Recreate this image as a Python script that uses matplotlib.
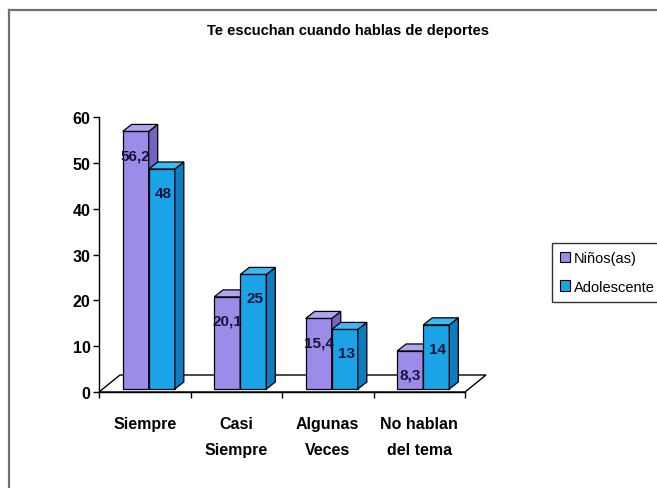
import matplotlib
matplotlib.use("Agg")
import matplotlib.pyplot as plt
from matplotlib.patches import Polygon, Patch
from matplotlib.lines import Line2D
import numpy as np

plt.rcParams['font.family'] = ['Liberation Sans', 'DejaVu Sans']

# datos
categorias = ["Siempre", "Casi\nSiempre", "Algunas\nVeces", "No hablan\ndel tema"]
ninos = [56.2, 20.1, 15.4, 8.3]
adolescentes = [48, 25, 13, 14]
etiq_ninos = ["56,2", "20,1", "15,4", "8,3"]
etiq_adol = ["48", "25", "13", "14"]
series = ["Niños(as)", "Adolescente"]

# colores (frente, lado, arriba)
morado = ("#9c8ce8", "#7563c4", "#b1a4f0")
azul = ("#1ba3e8", "#0f7cc0", "#3cb8f2")

W, H = 657, 489
fig = plt.figure(figsize=(W / 100, H / 100), dpi=100)
fig.patch.set_facecolor("white")

# ejes en pixeles: x 99..465, y 118..393
ax = fig.add_axes([99 / W, (H - 393) / H, (465 - 99) / W, (393 - 118) / H])
ax.set_xlim(0, 4)
ax.set_ylim(0, 60)
ax.patch.set_alpha(0)

px_x = 4 / (465 - 99)      # unidades por pixel
px_y = 60 / (393 - 118)

# piso en perspectiva
fdx, fdy = 21 * px_x, 17 * px_y
piso = Polygon([(0, 0), (4, 0), (4 + fdx, fdy), (fdx, fdy)], closed=True,
               facecolor="white", edgecolor="black", lw=1.0, clip_on=False, zorder=1)
ax.add_patch(piso)

# barras con profundidad
bdx, bdy = 9 * px_x, 7 * px_y       # profundidad de la barra
ox, oy = 4 * px_x, 3 * px_y         # barras un poco atras del borde del piso
ancho = 0.285
centros = np.arange(len(categorias)) + 0.5

def barra3d(xs, vals, col, z):
    ax.bar(xs + ox, vals, width=ancho, bottom=oy, color=col[0],
           edgecolor="black", linewidth=0.9, zorder=z, clip_on=False)
    for x, v in zip(xs + ox, vals):
        x0, x1 = x - ancho / 2, x + ancho / 2
        top = oy + v
        lado = Polygon([(x1, oy), (x1 + bdx, oy + bdy), (x1 + bdx, top + bdy), (x1, top)],
                       facecolor=col[1], edgecolor="black", lw=0.9, zorder=z, clip_on=False)
        arriba = Polygon([(x0, top), (x1, top), (x1 + bdx, top + bdy), (x0 + bdx, top + bdy)],
                         facecolor=col[2], edgecolor="black", lw=0.9, zorder=z, clip_on=False)
        ax.add_patch(lado)
        ax.add_patch(arriba)

barra3d(centros - ancho / 2, ninos, morado, 3)
barra3d(centros + ancho / 2, adolescentes, azul, 4)

# etiquetas de datos
for x, v, t in zip(centros - ancho / 2 + ox, ninos, etiq_ninos):
    ax.annotate(t, (x, v), xytext=(0, -15), textcoords="offset points",
                ha="center", va="center", fontsize=11, fontweight="bold",
                color="#14143a", zorder=6)
for x, v, t in zip(centros + ancho / 2 + ox, adolescentes, etiq_adol):
    ax.annotate(t, (x, v), xytext=(1, -15), textcoords="offset points",
                ha="center", va="center", fontsize=11, fontweight="bold",
                color="#14143a", zorder=6)

# ejes
for s in ["top", "right"]:
    ax.spines[s].set_visible(False)
ax.spines["left"].set_linewidth(1.0)
ax.spines["bottom"].set_linewidth(1.0)
ax.set_yticks(np.arange(0, 61, 10))
ax.tick_params(axis="y", direction="out", length=4, width=1, labelsize=11.5, pad=2)
for lb in ax.get_yticklabels():
    lb.set_fontweight("bold")
ax.set_xticks(np.arange(0, 5))
ax.set_xticklabels([])
ax.tick_params(axis="x", which="major", direction="out", length=4, width=1)
ax.set_xticks(centros, minor=True)
ax.set_xticklabels(categorias, minor=True, fontsize=11.5, fontweight="bold",
                   linespacing=1.95, va="top")
ax.tick_params(axis="x", which="minor", length=0, pad=17)

# titulo
fig.text(348 / W, 1 - 31 / H, "Te escuchan cuando hablas de deportes",
         ha="center", va="center", fontsize=10.5, fontweight="bold")

# leyenda
handles = [Patch(facecolor=morado[0], edgecolor="black", lw=0.8, label=series[0]),
           Patch(facecolor=azul[0], edgecolor="black", lw=0.8, label=series[1])]
leg = fig.legend(handles=handles, loc="upper left",
                 bbox_to_anchor=(552 / W, 1 - 244 / H), fontsize=10.5,
                 frameon=True, fancybox=False, edgecolor="black", borderpad=0.55,
                 handlelength=0.7, handleheight=0.7, handletextpad=0.25,
                 labelspacing=1.0, borderaxespad=0)
leg.get_frame().set_linewidth(1.0)

# marco exterior (solo arriba e izquierda visibles)
fig.add_artist(Line2D([8.5 / W, 8.5 / W], [0, 1 - 11 / H], color="#707070", lw=1.6))
fig.add_artist(Line2D([8.5 / W, 1], [1 - 11 / H, 1 - 11 / H], color="#707070", lw=1.6))

fig.savefig("out.png", dpi=100)
